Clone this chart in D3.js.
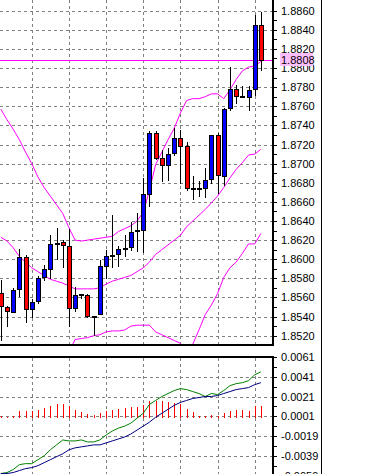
<!DOCTYPE html>
<html>
<head>
<meta charset="utf-8">
<script src="https://cdn.jsdelivr.net/npm/d3@7"></script>
<style>
html, body { margin: 0; padding: 0; background: #fff; overflow: hidden; }
svg { display: block; font-family: "Liberation Sans", Arial, sans-serif; font-size: 11px; }
</style>
</head>
<body>
<svg id="chart" width="370" height="474"></svg>
<script>
// candles, oldest on the left
const opens  = [1.8565,1.8550,1.8545,1.8569,1.8602,1.8548,1.8556,1.8581,1.8590,1.8617,1.8618,1.8614,1.8549,1.8564,1.8563,1.8541,1.8543,1.8593,1.8603,1.8605,1.8612,1.8613,1.8630,1.8631,1.8668,1.8732,1.8706,1.8699,1.8711,1.8727,1.8718,1.8675,1.8675,1.8675,1.8684,1.8730,1.8687,1.8758,1.8778,1.8771,1.8770,1.8778,1.8845];
const highs  = [1.8578,1.8551,1.8570,1.8611,1.8604,1.8558,1.8582,1.8594,1.8625,1.8633,1.8620,1.8632,1.8571,1.8564,1.8564,1.8541,1.8599,1.8610,1.8646,1.8614,1.8625,1.8639,1.8648,1.8685,1.8734,1.8734,1.8714,1.8716,1.8737,1.8735,1.8723,1.8687,1.8682,1.8695,1.8730,1.8732,1.8758,1.8801,1.8782,1.8781,1.8781,1.8856,1.8859];
const lows   = [1.8515,1.8530,1.8545,1.8562,1.8534,1.8540,1.8554,1.8578,1.8580,1.8600,1.8592,1.8530,1.8546,1.8559,1.8540,1.8521,1.8543,1.8580,1.8592,1.8593,1.8603,1.8610,1.8609,1.8608,1.8656,1.8705,1.8682,1.8683,1.8709,1.8680,1.8672,1.8663,1.8666,1.8665,1.8680,1.8669,1.8678,1.8756,1.8763,1.8770,1.8756,1.8772,1.8798];
const closes = [1.8551,1.8546,1.8568,1.8602,1.8548,1.8555,1.8580,1.8590,1.8616,1.8616,1.8615,1.8549,1.8563,1.8564,1.8541,1.8540,1.8593,1.8603,1.8604,1.8611,1.8611,1.8628,1.8631,1.8668,1.8732,1.8706,1.8699,1.8710,1.8727,1.8718,1.8674,1.8674,1.8675,1.8683,1.8730,1.8688,1.8757,1.8778,1.8771,1.8770,1.8777,1.8845,1.8808];

// bollinger bands
const bandUpper  = [1.8757,1.8746,1.8736,1.8725,1.8712,1.8700,1.8686,1.8675,1.8666,1.8657,1.8648,1.8633,1.8620,1.8619,1.8620,1.8621,1.8622,1.8623,1.8624,1.8629,1.8632,1.8635,1.8640,1.8649,1.8672,1.8699,1.8712,1.8725,1.8737,1.8753,1.8766,1.8768,1.8768,1.8770,1.8773,1.8773,1.8768,1.8777,1.8788,1.8797,1.8801,1.8802,1.8807];
const bandMiddle = [1.8623,1.8619,1.8612,1.8603,1.8597,1.8591,1.8587,1.8583,1.8579,1.8577,1.8575,1.8572,1.8569,1.8569,1.8569,1.8569,1.8570,1.8574,1.8577,1.8579,1.8581,1.8583,1.8587,1.8591,1.8597,1.8605,1.8610,1.8615,1.8620,1.8625,1.8634,1.8640,1.8646,1.8652,1.8659,1.8666,1.8675,1.8685,1.8694,1.8701,1.8709,1.8710,1.8715];
const bandLower  = [null,null,null,null,null,null,null,null,null,null,null,1.8503,1.8516,1.8517,1.8518,1.8520,1.8521,1.8524,1.8525,1.8525,1.8526,1.8530,1.8531,1.8531,1.8531,1.8524,1.8521,1.8518,1.8515,1.8512,1.8506,1.8511,1.8526,1.8542,1.8552,1.8564,1.8581,1.8591,1.8597,1.8606,1.8616,1.8616,1.8627];

const bidPrice = 1.8808;

// lower window
const histValues = [0.0001,0.0000,0.0001,0.0006,0.0006,0.0006,0.0007,0.0009,0.0011,0.0013,0.0013,0.0011,0.0007,0.0005,0.0003,0.0002,0.0004,0.0006,0.0007,0.0008,0.0009,0.0010,0.0010,0.0012,0.0016,0.0016,0.0016,0.0015,0.0014,0.0013,0.0008,0.0005,0.0001,0.0001,0.0002,0.0001,0.0004,0.0006,0.0007,0.0007,0.0006,0.0011,0.0011];
const greenLine  = [-0.0057,-0.0056,-0.0053,-0.0048,-0.0047,-0.0047,-0.0043,-0.0039,-0.0033,-0.0028,-0.0023,-0.0024,-0.0024,-0.0023,-0.0025,-0.0025,-0.0023,-0.0018,-0.0014,-0.0011,-0.0009,-0.0006,-0.0001,0.0004,0.0013,0.0017,0.0021,0.0024,0.0027,0.0029,0.0028,0.0026,0.0024,0.0021,0.0024,0.0023,0.0027,0.0032,0.0034,0.0035,0.0037,0.0043,0.0046];
const navyLine   = [-0.0057,-0.0057,-0.0056,-0.0054,-0.0052,-0.0051,-0.0049,-0.0046,-0.0043,-0.0040,-0.0037,-0.0033,-0.0031,-0.0030,-0.0029,-0.0028,-0.0028,-0.0026,-0.0024,-0.0022,-0.0020,-0.0017,-0.0013,-0.0009,-0.0005,0.0000,0.0004,0.0008,0.0012,0.0015,0.0017,0.0019,0.0020,0.0021,0.0021,0.0022,0.0024,0.0026,0.0028,0.0029,0.0030,0.0033,0.0035];

// axis ticks
const priceTicks = [1.8860,1.8840,1.8820,1.8800,1.8780,1.8760,1.8740,1.8720,1.8700,1.8680,1.8660,1.8640,1.8620,1.8600,1.8580,1.8560,1.8540,1.8520];
const priceMinor = [1.8850,1.8830,1.8810,1.8790,1.8770,1.8750,1.8730,1.8710,1.8690,1.8670,1.8650,1.8630,1.8610,1.8590,1.8570,1.8550,1.8530];
const subTicks   = [0.0061,0.0041,0.0021,0.0001,-0.0019,-0.0039,-0.0059];
const subMinor   = [0.0051,0.0031,0.0011,-0.0009,-0.0029,-0.0049];
const gridBars   = [5,11,17,23,29,35,41];

const axisX = 273;       // right edge of the plotting area
const mainBottom = 345;
const subTop = 357;

const svg = d3.select("#chart");

const x = d3.scaleLinear().domain([0, 42]).range([0.8, 260.9]);
const yMain = d3.scaleLinear().domain([1.8520, 1.8860]).range([335.7, 10.7]);
const ySub = d3.scaleLinear().domain([-0.0039, 0.0061]).range([455.75, 357]);
const px = v => Math.round(v) + 0.5;
const idx = d3.range(opens.length);

const defs = svg.append("defs");
defs.append("clipPath").attr("id", "clipMain")
    .append("rect").attr("x", 0).attr("y", 0).attr("width", axisX - 1).attr("height", mainBottom - 1);
defs.append("clipPath").attr("id", "clipSub")
    .append("rect").attr("x", 0).attr("y", subTop + 1).attr("width", axisX - 1).attr("height", 474 - subTop);

// grid
const grid = svg.append("g")
    .attr("stroke", "#808080")
    .attr("stroke-dasharray", "3,3")
    .attr("shape-rendering", "crispEdges");

grid.selectAll("line.h")
    .data(priceTicks)
    .enter().append("line")
    .attr("class", "h")
    .attr("x1", 0).attr("x2", axisX - 1)
    .attr("y1", d => px(yMain(d))).attr("y2", d => px(yMain(d)));

grid.selectAll("line.hs")
    .data(subTicks.filter(d => d < 0.0061))
    .enter().append("line")
    .attr("class", "hs")
    .attr("x1", 0).attr("x2", axisX - 1)
    .attr("y1", d => px(ySub(d))).attr("y2", d => px(ySub(d)));

grid.selectAll("line.v")
    .data(gridBars)
    .enter().append("line")
    .attr("class", "v")
    .attr("x1", d => px(x(d))).attr("x2", d => px(x(d)))
    .attr("y1", 0).attr("y2", mainBottom - 1);

grid.selectAll("line.vs")
    .data(gridBars)
    .enter().append("line")
    .attr("class", "vs")
    .attr("x1", d => px(x(d))).attr("x2", d => px(x(d)))
    .attr("y1", subTop + 1).attr("y2", 474);

// main window
const main = svg.append("g").attr("clip-path", "url(#clipMain)");

// bid line
main.append("line")
    .attr("x1", 0).attr("x2", axisX)
    .attr("y1", px(yMain(bidPrice))).attr("y2", px(yMain(bidPrice)))
    .attr("stroke", "#ff00ff")
    .attr("shape-rendering", "crispEdges");

// bands
[bandUpper, bandMiddle, bandLower].forEach(band => {
    const line = d3.line()
        .defined(i => band[i] !== null)
        .x(i => x(i))
        .y(i => yMain(band[i]));
    main.append("path")
        .attr("d", line(idx))
        .attr("fill", "none")
        .attr("stroke", "#ff00ff")
        .attr("stroke-width", 1);
});

// candles
const candle = main.append("g")
    .attr("shape-rendering", "crispEdges")
    .selectAll("g")
    .data(idx)
    .enter().append("g");

candle.append("line")
    .attr("x1", i => px(x(i))).attr("x2", i => px(x(i)))
    .attr("y1", i => Math.round(yMain(highs[i])))
    .attr("y2", i => Math.round(yMain(lows[i])) + 1)
    .attr("stroke", "#000");

candle.each(function(i) {
    const g = d3.select(this);
    const cx = Math.round(x(i));
    const yo = Math.round(yMain(opens[i]));
    const yc = Math.round(yMain(closes[i]));
    if (yo === yc) {
        g.append("line")
            .attr("x1", cx - 2).attr("x2", cx + 3)
            .attr("y1", yo + 0.5).attr("y2", yo + 0.5)
            .attr("stroke", "#000")
            .attr("stroke-width", 2);
    } else {
        g.append("rect")
            .attr("x", cx - 2 + 0.5)
            .attr("y", Math.min(yo, yc) + 0.5)
            .attr("width", 4)
            .attr("height", Math.abs(yo - yc))
            .attr("fill", closes[i] > opens[i] ? "#0000ff" : "#ff0000")
            .attr("stroke", "#000");
    }
});

// lower window
const sub = svg.append("g").attr("clip-path", "url(#clipSub)");

sub.append("g")
    .attr("shape-rendering", "crispEdges")
    .selectAll("line")
    .data(idx)
    .enter().append("line")
    .attr("x1", i => px(x(i))).attr("x2", i => px(x(i)))
    .attr("y1", Math.round(ySub(0)) + 1)
    .attr("y2", i => Math.round(ySub(histValues[i])))
    .attr("stroke", "#ff0000");

[[greenLine, "#008000"], [navyLine, "#000080"]].forEach(([vals, color]) => {
    const line = d3.line().x(i => x(i)).y(i => ySub(vals[i]));
    sub.append("path")
        .attr("d", line(idx))
        .attr("fill", "none")
        .attr("stroke", color)
        .attr("stroke-width", 1);
});

// frames
const frame = svg.append("g").attr("stroke", "#000").attr("stroke-width", 2).attr("shape-rendering", "crispEdges");
frame.append("line").attr("x1", 0).attr("x2", axisX + 1).attr("y1", mainBottom).attr("y2", mainBottom);
frame.append("line").attr("x1", axisX).attr("x2", axisX).attr("y1", 0).attr("y2", mainBottom + 1);
frame.append("line").attr("x1", 0).attr("x2", axisX + 1).attr("y1", subTop).attr("y2", subTop);
frame.append("line").attr("x1", axisX).attr("x2", axisX).attr("y1", subTop - 1).attr("y2", 474);

svg.append("line")
    .attr("x1", 321.5).attr("x2", 321.5)
    .attr("y1", 0).attr("y2", 474)
    .attr("stroke", "#000")
    .attr("shape-rendering", "crispEdges");

// axes
function drawAxis(scale, major, minor) {
    const g = svg.append("g").attr("transform", `translate(${axisX + 1},0)`);
    g.call(d3.axisRight(scale).tickValues(major).tickSize(3).tickPadding(4)
        .tickFormat(d => d.toFixed(4)));
    g.select(".domain").remove();
    g.selectAll("text").attr("fill", "#000").attr("font-size", 11)
        .attr("font-family", "'Liberation Sans', Arial, sans-serif");
    g.selectAll("line").attr("shape-rendering", "crispEdges");
    const m = svg.append("g").attr("transform", `translate(${axisX + 1},0)`);
    m.call(d3.axisRight(scale).tickValues(minor).tickSize(3).tickFormat(""));
    m.select(".domain").remove();
    m.selectAll("line").attr("shape-rendering", "crispEdges");
}
drawAxis(yMain, priceTicks, priceMinor);
drawAxis(ySub, subTicks, subMinor);

// current price label
const bidY = yMain(bidPrice);
svg.append("rect")
    .attr("x", 280).attr("y", Math.round(bidY) - 7)
    .attr("width", 33).attr("height", 13)
    .attr("fill", "#ffbfff");
svg.append("text")
    .attr("x", 281).attr("y", bidY)
    .attr("dy", "0.32em")
    .attr("fill", "#000")
    .text(bidPrice.toFixed(4));
</script>
</body>
</html>
